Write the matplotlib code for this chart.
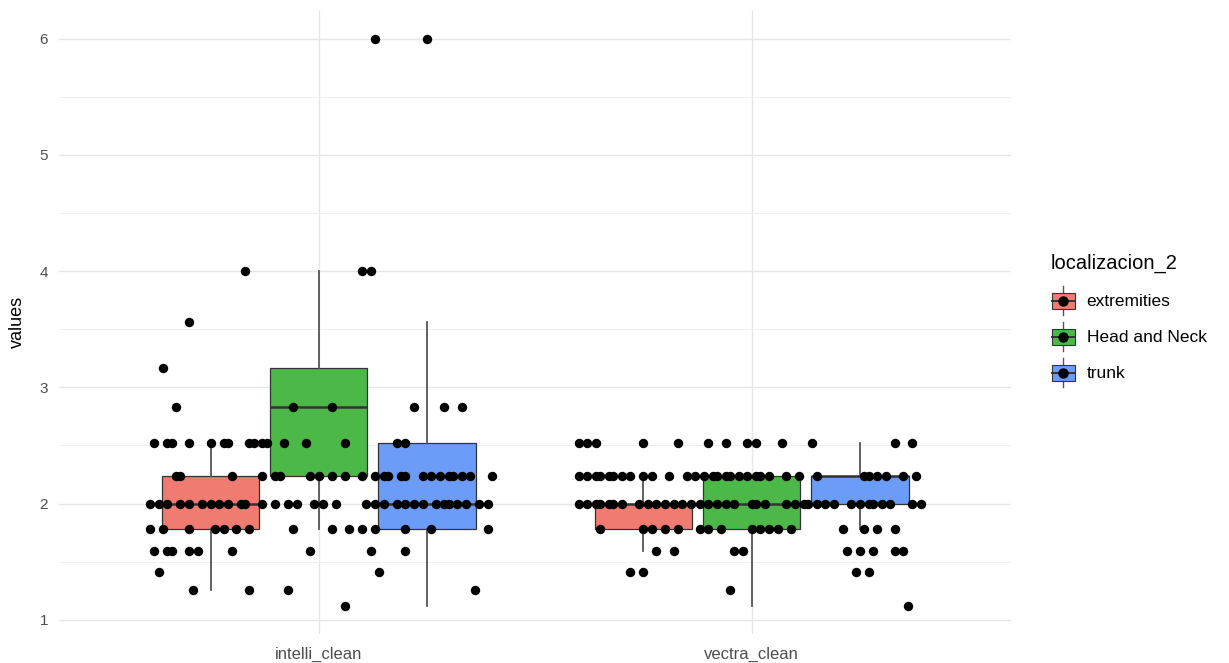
import matplotlib
matplotlib.use("Agg")
import matplotlib.pyplot as plt
from matplotlib.patches import Patch, Rectangle
from matplotlib.lines import Line2D
from matplotlib.legend_handler import HandlerBase
from matplotlib.ticker import MultipleLocator

plt.rcParams['font.family'] = ['Liberation Sans', 'DejaVu Sans']

# categories and groups
categories = ['intelli_clean', 'vectra_clean']
groups = ['extremities', 'Head and Neck', 'trunk']
group_colors = ['#F07B70', '#4CB848', '#6A9CF8']

# box statistics per category: (low whisker, q1, median, q3, high whisker)
intelli_boxes = [(1.26, 1.78, 2.0, 2.24, 2.52),
                 (1.78, 2.24, 2.83, 3.17, 4.0),
                 (1.12, 1.78, 2.0, 2.52, 3.56)]
vectra_boxes = [(1.59, 1.78, 2.0, 2.0, 2.24),
                (1.12, 1.78, 2.0, 2.24, 2.24),
                (1.78, 2.0, 2.24, 2.24, 2.52)]

# jittered points: value -> horizontal jitter offsets (category units)
intelli_points = {
    6.0: [0.13, 0.25],
    4.0: [-0.17, 0.10, 0.12],
    3.56: [-0.30],
    3.17: [-0.36],
    2.83: [-0.33, -0.06, 0.03, 0.22, 0.29, 0.33],
    2.52: [-0.38, -0.35, -0.34, -0.30, -0.25, -0.22, -0.21, -0.16, -0.15,
           -0.13, -0.12, -0.08, -0.03, 0.06, 0.18, 0.20],
    2.24: [-0.33, -0.32, -0.20, -0.13, -0.10, -0.09, -0.02, 0.00, 0.03, 0.06,
           0.10, 0.13, 0.15, 0.16, 0.19, 0.20, 0.24, 0.26, 0.28, 0.30, 0.31,
           0.33, 0.35, 0.40],
    2.0: [-0.39, -0.37, -0.35, -0.32, -0.30, -0.27, -0.25, -0.23, -0.21, -0.18,
          -0.17, -0.13, -0.10, -0.07, -0.05, -0.01, 0.01, 0.04, 0.11, 0.13,
          0.15, 0.18, 0.20, 0.22, 0.24, 0.27, 0.29, 0.30, 0.32, 0.34, 0.37, 0.39],
    1.78: [-0.39, -0.36, -0.30, -0.24, -0.22, -0.19, -0.16, -0.06, 0.03, 0.07,
           0.10, 0.13, 0.20, 0.26, 0.39],
    1.59: [-0.38, -0.35, -0.34, -0.30, -0.28, -0.20, -0.02, 0.12, 0.20],
    1.41: [-0.37, 0.14],
    1.26: [-0.29, -0.16, -0.07, 0.36],
    1.12: [0.06],
}
vectra_points = {
    2.52: [-0.40, -0.38, -0.36, -0.25, -0.17, -0.10, -0.06, -0.01, 0.01, 0.07,
           0.14, 0.33, 0.37],
    2.24: [-0.40, -0.38, -0.36, -0.35, -0.33, -0.32, -0.30, -0.28, -0.25, -0.23,
           -0.19, -0.15, -0.13, -0.11, -0.09, -0.08, -0.06, -0.05, -0.03, -0.01,
           0.01, 0.02, 0.04, 0.08, 0.11, 0.15, 0.26, 0.27, 0.29, 0.31, 0.35, 0.38],
    2.0: [-0.40, -0.38, -0.36, -0.35, -0.33, -0.32, -0.30, -0.26, -0.24, -0.22,
          -0.20, -0.18, -0.16, -0.14, -0.12, -0.10, -0.08, -0.06, -0.04, 0.00,
          0.01, 0.03, 0.08, 0.10, 0.12, 0.13, 0.15, 0.17, 0.19, 0.23, 0.25,
          0.27, 0.28, 0.30, 0.32, 0.37, 0.39],
    1.78: [-0.35, -0.25, -0.23, -0.20, -0.17, -0.12, -0.10, -0.07, 0.00, 0.02,
           0.04, 0.06, 0.09, 0.21, 0.26, 0.29, 0.33],
    1.59: [-0.22, -0.18, -0.04, -0.02, 0.22, 0.25, 0.28, 0.33, 0.35],
    1.41: [-0.28, -0.25, 0.24, 0.27],
    1.26: [-0.05],
    1.12: [0.36],
}


class BoxKey(HandlerBase):
    def create_artists(self, legend, orig_handle, xdescent, ydescent,
                       width, height, fontsize, trans):
        x0, y0 = -xdescent, -ydescent
        w, h = width, height
        whisk = Line2D([x0 + w / 2] * 2, [y0 - h * 0.3, y0 + h * 1.3],
                       color='#555555', lw=1.0)
        rect = Rectangle((x0 + w * 0.06, y0 + h * 0.05), w * 0.88, h * 0.9,
                         facecolor=orig_handle.get_facecolor(),
                         edgecolor='#333333', lw=0.8)
        med = Line2D([x0 + w * 0.06, x0 + w * 0.94], [y0 + h / 2] * 2,
                     color='#333333', lw=1.4)
        dot = Line2D([x0 + w / 2], [y0 + h / 2], marker='o', ms=6.5,
                     color='black', lw=0)
        arts = [whisk, rect, med, dot]
        for a in arts:
            a.set_transform(trans)
        return arts


fig = plt.figure(figsize=(12.29, 6.63), dpi=100)
ax = fig.add_axes([0.048, 0.0437, 0.775, 0.941])

dodge = 0.25
box_w = 0.225
for ci, boxes in enumerate([intelli_boxes, vectra_boxes]):
    center = ci + 1
    for gi, (lo, q1, med, q3, hi) in enumerate(boxes):
        pos = center + (gi - 1) * dodge
        stats = [{'whislo': lo, 'q1': q1, 'med': med, 'q3': q3, 'whishi': hi}]
        ax.bxp(stats, positions=[pos], widths=box_w, patch_artist=True,
               showfliers=False, showcaps=False,
               boxprops=dict(facecolor=group_colors[gi], edgecolor='#333333',
                             linewidth=0.9),
               medianprops=dict(color='#333333', linewidth=1.8),
               whiskerprops=dict(color='#555555', linewidth=1.3),
               manage_ticks=False, zorder=2)

for ci, pts in enumerate([intelli_points, vectra_points]):
    center = ci + 1
    xs, ys = [], []
    for val, offs in pts.items():
        for o in offs:
            xs.append(center + o)
            ys.append(val)
    ax.scatter(xs, ys, s=46, color='black', zorder=3, linewidths=0)

ax.set_xlim(0.4, 2.6)
ax.set_ylim(0.878, 6.244)
ax.set_xticks([1, 2])
ax.set_xticklabels(categories)
ax.yaxis.set_major_locator(MultipleLocator(1))
ax.yaxis.set_minor_locator(MultipleLocator(0.5))
ax.grid(True, which='major', color='#E6E6E6', linewidth=1.0)
ax.grid(True, which='minor', axis='y', color='#F0F0F0', linewidth=0.7)
ax.set_axisbelow(True)
for s in ax.spines.values():
    s.set_visible(False)
ax.tick_params(which='both', length=0, colors='#4D4D4D')
ax.tick_params(axis='x', labelsize=12, pad=9)
ax.tick_params(axis='y', labelsize=11, pad=8)
ax.set_ylabel('values', fontsize=13, color='black', labelpad=10)

handles = [Patch(facecolor=c) for c in group_colors]
leg = fig.legend(handles, groups, handler_map={Patch: BoxKey()},
                 title='localizacion_2', loc='upper left',
                 bbox_to_anchor=(1038 / 1229, 1 - 242 / 663),
                 frameon=False, fontsize=12.5, title_fontsize=14.5,
                 handlelength=1.5, handleheight=1.2, labelspacing=1.05,
                 handletextpad=0.6, borderaxespad=0.3, alignment='left')

fig.savefig('out.png', dpi=100)
